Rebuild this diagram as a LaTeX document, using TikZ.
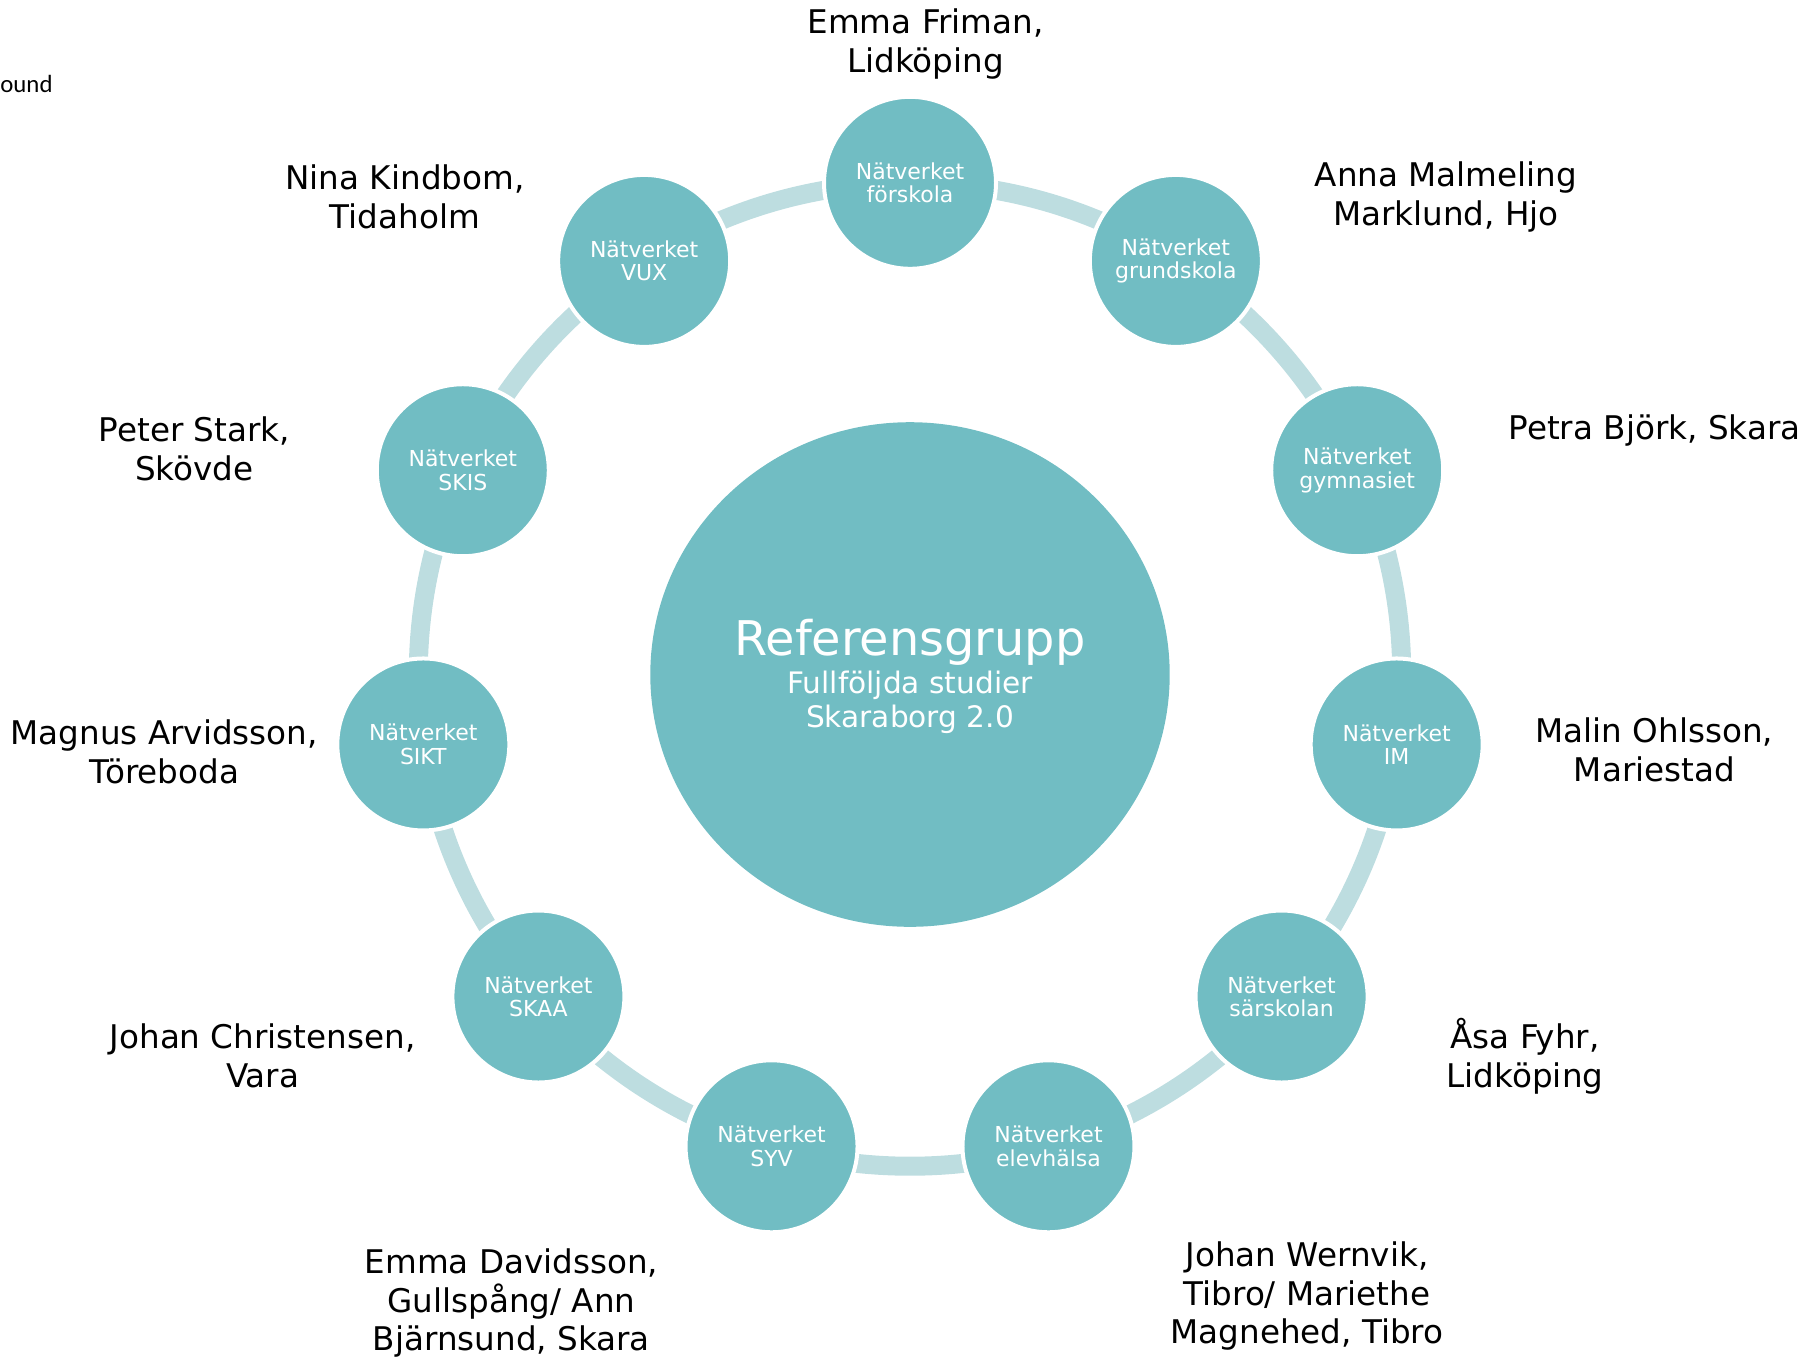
\documentclass[tikz,border=0pt]{standalone}
\usepackage{fontspec}
\setmainfont{DejaVu Sans}
\newfontfamily\notefont{Carlito}
\usetikzlibrary{calc,shapes.geometric}
\definecolor{netfill}{HTML}{71BDC3}
\definecolor{netband}{HTML}{BDDDE0}
\begin{document}
\begin{tikzpicture}[x=0.5pt, y=-0.5pt,
    hub/.style={ellipse, fill=netfill, minimum width=259.7pt, minimum height=252.3pt, inner sep=0pt, text=white, align=center, font=\fontsize{14.8}{17}\selectfont},
    net/.style={circle, fill=netfill, draw=white, line width=2pt, minimum size=86pt, inner sep=0pt, text=white, align=center, font=\fontsize{11}{11.7}\selectfont},
    who/.style={align=center, font=\fontsize{16.3}{19.3}\selectfont},
    band/.style={draw=netband, line width=9.5pt}]
  \useasboundingbox (0,0) rectangle (1814,1357);
  \coordinate (mid) at (910,674.5);

  % the ring behind the circles
  \draw [band] (mid) circle (491.7);

  \node [hub] (hub) at (mid) {};
  \node [text=white, align=center, font=\fontsize{14.8}{17}\selectfont] (title) at ($(mid)+(0,2)$)
    {{\fontsize{23.9}{18.5}\selectfont Referensgrupp}\\[2pt]Fullföljda studier\\Skaraborg 2.0};

  \node [net] (forskola)   at ($(mid)+(-90:491.7)$)    {Nätverket\\förskola};
  \node [net] (grundskola) at ($(mid)+(-57.27:491.7)$) {Nätverket\\grundskola};
  \node [net] (gymnasiet)  at ($(mid)+(-24.55:491.7)$) {Nätverket\\gymnasiet};
  \node [net] (im)         at ($(mid)+(8.18:491.7)$)   {Nätverket\\IM};
  \node [net] (sarskolan)  at ($(mid)+(40.91:491.7)$)  {Nätverket\\särskolan};
  \node [net] (elevhalsa)  at ($(mid)+(73.64:491.7)$)  {Nätverket\\elevhälsa};
  \node [net] (syv)        at ($(mid)+(106.36:491.7)$) {Nätverket\\SYV};
  \node [net] (skaa)       at ($(mid)+(139.09:491.7)$) {Nätverket\\SKAA};
  \node [net] (sikt)       at ($(mid)+(171.82:491.7)$) {Nätverket\\SIKT};
  \node [net] (skis)       at ($(mid)+(204.55:491.7)$) {Nätverket\\SKIS};
  \node [net] (vux)        at ($(mid)+(237.27:491.7)$) {Nätverket\\VUX};

  % names beside the circles
  \node [who] (friman)     at (925.6,44)   {Emma Friman,\\Lidköping};
  \node [who] (malmeling)  at (1446,197)   {Anna Malmeling\\Marklund, Hjo};
  \node [who] (bjork)      at (1654.5,430) {Petra Björk, Skara};
  \node [who] (ohlsson)    at (1654.5,750) {Malin Ohlsson,\\Mariestad};
  \node [who] (fyhr)       at (1525,1056)  {Åsa Fyhr,\\Lidköping};
  \node [who] (wernvik)    at (1307,1296)  {Johan Wernvik,\\Tibro/ Mariethe\\Magnehed, Tibro};
  \node [who] (davidsson)  at (511.4,1303) {Emma Davidsson,\\Gullspång/ Ann\\Bjärnsund, Skara};
  \node [who] (christensen) at (262.6,1056) {Johan Christensen,\\Vara};
  \node [who] (arvidsson)  at (164.3,752)  {Magnus Arvidsson,\\Töreboda};
  \node [who] (stark)      at (194.4,449)  {Peter Stark,\\Skövde};
  \node [who] (kindbom)    at (405,197)    {Nina Kindbom,\\Tidaholm};

  \node [anchor=base west, inner sep=0pt, font=\notefont\fontsize{12.4}{14}\selectfont] (note) at (0,92) {ound};
\end{tikzpicture}
\end{document}
